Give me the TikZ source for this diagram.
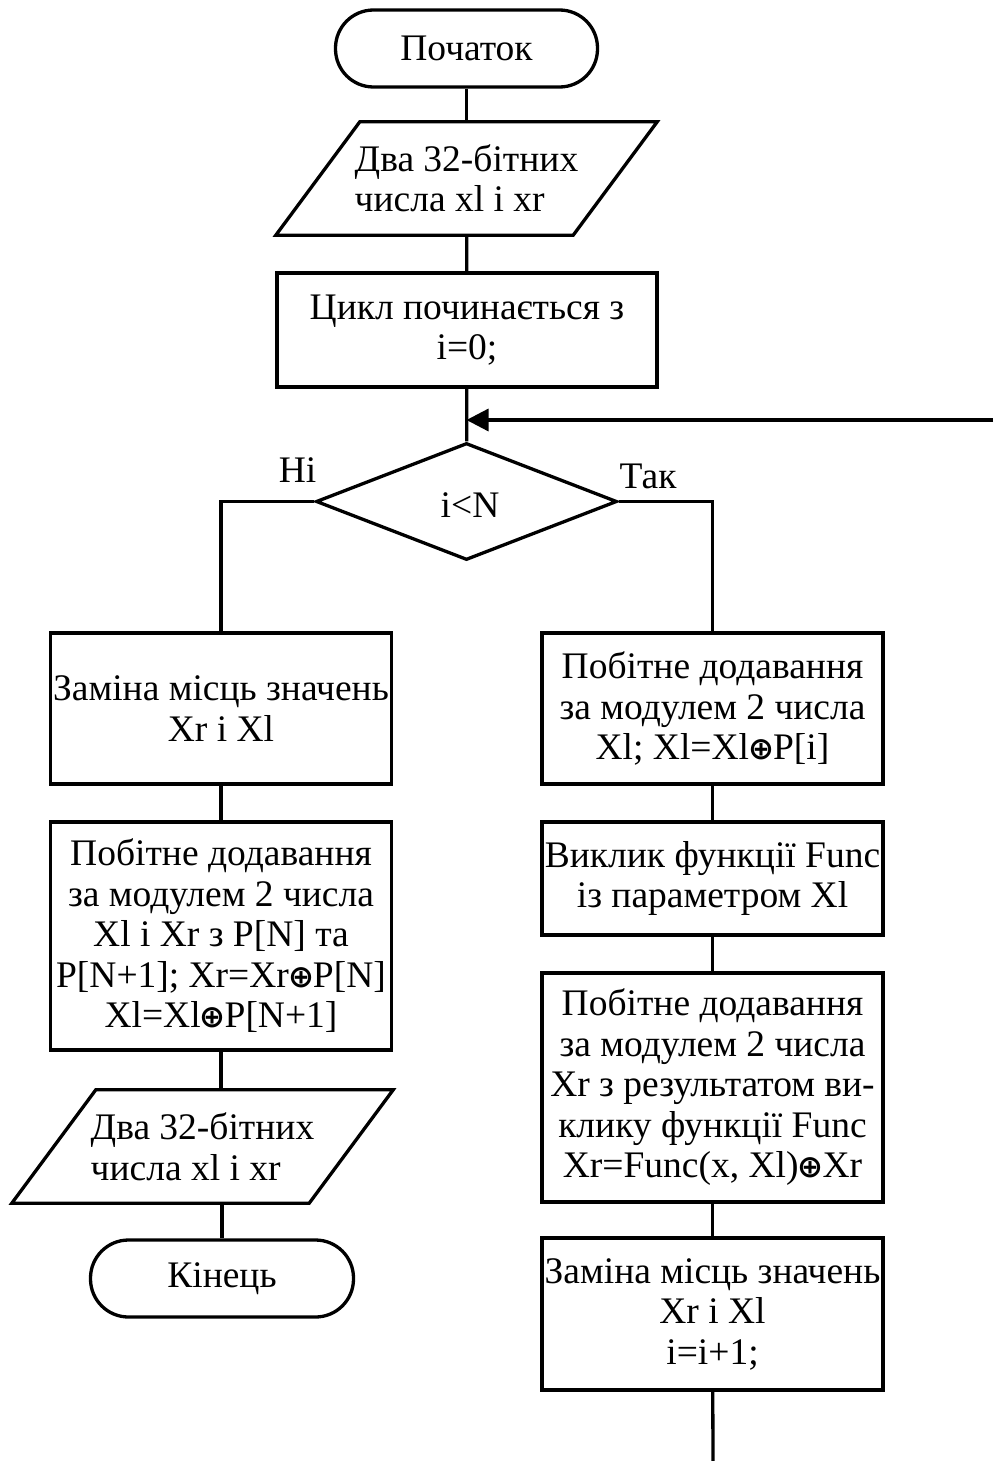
\documentclass[tikz,border=0pt]{standalone}
\usepackage{fontspec}
\setmainfont{Liberation Serif}
\newfontfamily\symfont{DejaVu Sans}
\usetikzlibrary{shapes.geometric,arrows.meta}
% heavy circled plus used for XOR
\newcommand{\xorop}{{\symfont\bfseries\fontsize{31}{31}\selectfont\kern-1pt⊕\kern-1pt}}
\begin{document}
\begin{tikzpicture}[x=1pt,y=-1pt,
  every node/.style={font=\fontsize{37.5}{40.5}\selectfont},
  lw/.style={line width=3.3pt},
  procbox/.style={draw,lw,rectangle,inner sep=0pt,align=center,minimum width=341pt},
  termbox/.style={draw,lw,rectangle,rounded corners=38pt,inner sep=0pt,minimum width=262pt,minimum height=77pt},
  decbox/.style={draw,lw,diamond,inner sep=0pt,minimum width=301pt,minimum height=117pt},
  iobox/.style={rectangle,inner sep=0pt,align=left,minimum width=381pt,minimum height=113pt},
  ioframe/.style={lw,line join=miter},
  flow/.style={lw},
  branch/.style={inner sep=0pt,anchor=base}
]
\useasboundingbox (0,0) rectangle (993,1461);

% main column
\node[termbox] (start) at (466.5,48.5) {Початок};

\node[iobox] (in) at (466.5,178.5) {Два 32-бітних\\числа xl і xr};
\draw[ioframe] ([xshift=84pt]in.north west) -- (in.north east)
  -- ([xshift=-84pt]in.south east) -- (in.south west) -- cycle;

\node[procbox,minimum width=380pt,minimum height=114pt] (init) at (467,330) {Цикл починається з\\i=0;};

\node[decbox] (dec) at (466.5,501.5) {};
\node[inner sep=0pt] (cond) at (470,505) {i<N};

\node[branch] (no) at (297.5,482) {Ні};
\node[branch] (yes) at (648,488) {Так};

% "no" branch
\node[procbox,minimum height=151pt] (swapL) at (221,708.5) {Заміна місць значень\\Xr і Xl};
\node[procbox,minimum height=228pt] (final) at (221,936) {Побітне додавання\\за модулем 2 числа\\Xl і Xr з P[N] та\\P[N+1]; Xr=Xr\xorop P[N]\\Xl=Xl\xorop P[N+1]};
\node[iobox] (out) at (202.5,1146.5) {Два 32-бітних\\числа xl і xr};
\draw[ioframe] ([xshift=84pt]out.north west) -- (out.north east)
  -- ([xshift=-84pt]out.south east) -- (out.south west) -- cycle;
\node[termbox,minimum width=263pt] (stop) at (222,1278.5) {Кінець};

% "yes" branch (loop body)
\node[procbox,minimum height=151pt] (xorP) at (712.5,708.5) {Побітне додавання\\за модулем 2 числа\\Xl; Xl=Xl\xorop P[i]};
\node[procbox,minimum height=113pt] (call) at (712.5,878.5) {Виклик функції Func\\із параметром Xl};
\node[procbox,minimum height=229pt] (xorF) at (712.5,1087.5) {Побітне додавання\\за модулем 2 числа\\Xr з результатом ви-\\клику функції Func\\Xr=Func(x, Xl)\xorop Xr};
\node[procbox,minimum height=152pt] (swapR) at (712.5,1314) {Заміна місць значень\\Xr і Xl\\i=i+1;};

\coordinate (loopout) at (713,1461);
\coordinate (loopin) at (993,420);

% connectors
\draw[flow] (start) -- (in);
\draw[flow] (in) -- (init);
\draw[flow] (init) -- (dec);
\draw[flow,-{Triangle[length=22pt,width=22pt]}] (loopin) -- (loopin -| dec.north);
\draw[flow] (dec.west) -| (swapL.north);
\draw[flow] (dec.east) -| (xorP.north);
\draw[flow] (swapL) -- (final);
\draw[flow] (final.south) -- (final.south |- out.north);
\draw[flow] (stop.north) -- (stop.north |- out.south);
\draw[flow] (xorP) -- (call);
\draw[flow] (call) -- (xorF);
\draw[flow] (xorF) -- (swapR);
\draw[flow] (swapR) -- (loopout);
\end{tikzpicture}
\end{document}
